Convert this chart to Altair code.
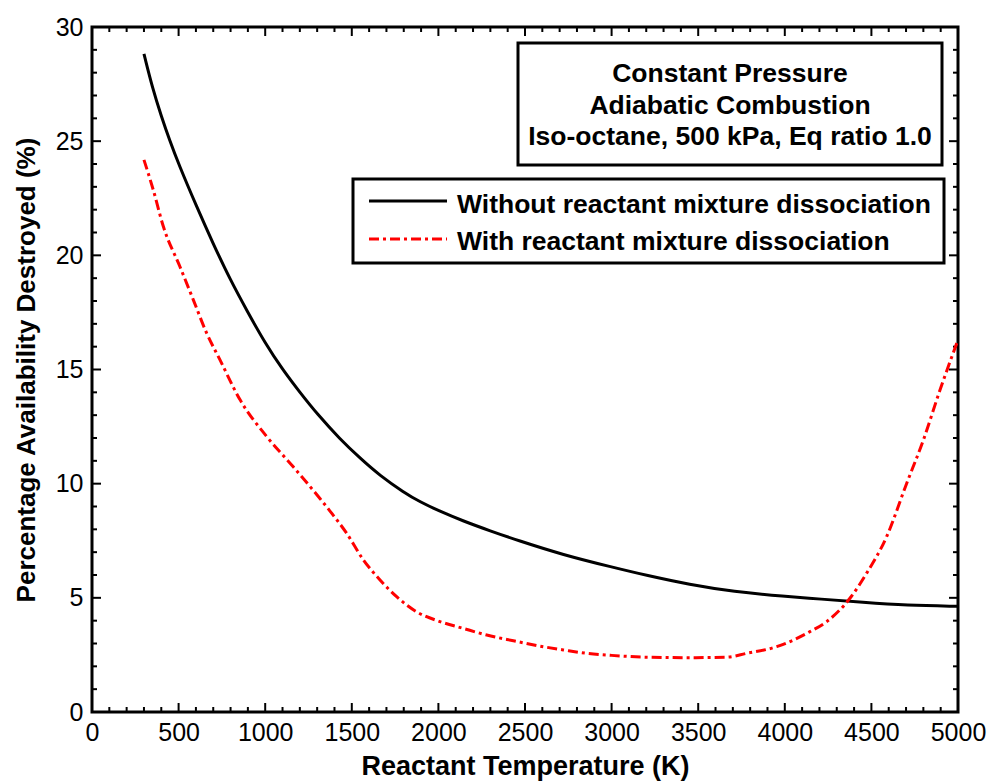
import altair as alt
import pandas as pd

# ---- data ----
temp_without = [300, 350, 400, 450, 500, 600, 700, 800, 900, 1000, 1100, 1200, 1300, 1432,
                1550, 1663, 1800, 1894, 2000, 2144, 2300, 2452, 2721, 3000, 3202, 3450, 3703,
                4000, 4203, 4450, 4703, 5000]
avail_without = [28.82, 27.3, 26.1, 25.0, 24.0, 22.2, 20.5, 18.9, 17.5, 16.15, 15.0, 14.0,
                 13.05, 11.95, 11.1, 10.35, 9.62, 9.2, 8.82, 8.36, 7.93, 7.53, 6.88, 6.35,
                 5.98, 5.58, 5.27, 5.06, 4.95, 4.8, 4.67, 4.63]

temp_with = [300, 354, 412, 508, 585, 662, 739, 855, 1009, 1162, 1316, 1374, 1470, 1567,
             1663, 1759, 1874, 2009, 2144, 2279, 2433, 2606, 2721, 2856, 3000, 3202, 3450,
             3664, 3780, 3953, 4145, 4242, 4376, 4472, 4588, 4703, 4800, 4896, 5000]
avail_with = [24.18, 22.86, 21.26, 19.5, 18.05, 16.59, 15.42, 13.67, 12.06, 10.74, 9.35,
              8.8, 7.83, 6.66, 5.78, 5.05, 4.39, 3.96, 3.66, 3.37, 3.12, 2.86, 2.72, 2.57,
              2.48, 2.40, 2.38, 2.40, 2.57, 2.86, 3.52, 3.96, 4.98, 6.07, 7.68, 10.0, 11.91,
              14.1, 16.3]

x_major = [0, 500, 1000, 1500, 2000, 2500, 3000, 3500, 4000, 4500, 5000]
x_minor = [v for v in range(0, 5001, 100) if v % 500 != 0]
y_major = [0, 5, 10, 15, 20, 25, 30]
y_minor = [v for v in range(0, 31) if v % 5 != 0]

series_labels = ["Without reactant mixture dissociation", "With reactant mixture dissociation"]
box_lines = ["Constant Pressure", "Adiabatic Combustion", "Iso-octane, 500 kPa, Eq ratio 1.0"]

W, H = 866, 685
X_MAX, Y_MAX = 5000, 30
FONT = "Liberation Sans"
RED_DASH = [10, 4, 3, 4]
TXT = 26.5
MAJOR_PX, MINOR_PX = 9, 5

# black curve + inward tick segments share one table (grouped with detail)
rows = [(t, a, "curve") for t, a in zip(temp_without, avail_without)]
k = 0
for vals, px in [(x_major, MAJOR_PX), (x_minor, MINOR_PX)]:
    ly = px * Y_MAX / H
    for v in vals:
        rows += [(v, 0, f"t{k}"), (v, ly, f"t{k}")]
        k += 1
        rows += [(v, Y_MAX, f"t{k}"), (v, Y_MAX - ly, f"t{k}")]
        k += 1
for vals, px in [(y_major, MAJOR_PX), (y_minor, MINOR_PX)]:
    lx = px * X_MAX / W
    for v in vals:
        rows += [(0, v, f"t{k}"), (lx, v, f"t{k}")]
        k += 1
        rows += [(X_MAX, v, f"t{k}"), (X_MAX - lx, v, f"t{k}")]
        k += 1
df_black = pd.DataFrame(rows, columns=["T", "A", "grp"])
df_b = pd.DataFrame({"T": temp_with, "A": avail_with})

xs = alt.Scale(domain=[0, X_MAX], nice=False)
ys = alt.Scale(domain=[0, Y_MAX], nice=False)

x_enc = alt.X("T:Q", scale=xs, axis=alt.Axis(
    values=x_major, format="d", ticks=False, domain=False, grid=False,
    title="Reactant Temperature (K)", labelPadding=8, titlePadding=8,
    labelFontSize=25, titleFontSize=27, titleFontWeight="bold",
    labelFont=FONT, titleFont=FONT, labelColor="black", titleColor="black",
    labelFlush=False))
y_enc = alt.Y("A:Q", scale=ys, axis=alt.Axis(
    values=y_major, format="d", ticks=False, domain=False, grid=False,
    title="Percentage Availability Destroyed (%)", labelPadding=9, titlePadding=16,
    labelFontSize=25, titleFontSize=26, titleFontWeight="bold",
    labelFont=FONT, titleFont=FONT, labelColor="black", titleColor="black",
    labelFlush=False))

line_a = alt.Chart(df_black).mark_line(color="black", interpolate="basis").encode(
    x=x_enc, y=y_enc, detail="grp:N",
    strokeWidth=alt.condition(alt.datum.grp == "curve", alt.value(3), alt.value(2)))
line_b = alt.Chart(df_b).mark_line(color="#ff0000", strokeWidth=3, strokeDash=RED_DASH,
                                   interpolate="monotone").encode(
    x=alt.X("T:Q", scale=xs), y=alt.Y("A:Q", scale=ys))

one = pd.DataFrame({"k": [0]})

# annotation box
box1 = alt.Chart(one).mark_rect(fill="white", stroke="black", strokeWidth=3).encode(
    x=alt.value(426), x2=alt.value(850), y=alt.value(16), y2=alt.value(138))
box_texts = []
for i, t in enumerate(box_lines):
    box_texts.append(alt.Chart(one).mark_text(
        text=t, font=FONT, fontSize=TXT, fontWeight="bold", color="black",
        align="center", baseline="alphabetic").encode(
        x=alt.value(638), y=alt.value(55 + 31.5 * i)))

# legend box
box2 = alt.Chart(one).mark_rect(fill="white", stroke="black", strokeWidth=3).encode(
    x=alt.value(261), x2=alt.value(852), y=alt.value(152), y2=alt.value(236))
leg_a = alt.Chart(one).mark_rule(color="black", strokeWidth=3).encode(
    x=alt.value(277), x2=alt.value(355), y=alt.value(174))
leg_b = alt.Chart(one).mark_rule(color="#ff0000", strokeWidth=3, strokeDash=RED_DASH).encode(
    x=alt.value(277), x2=alt.value(355), y=alt.value(212))
leg_ta = alt.Chart(one).mark_text(
    text=series_labels[0], font=FONT, fontSize=TXT, fontWeight="bold", color="black",
    align="left", baseline="alphabetic").encode(x=alt.value(365), y=alt.value(186))
leg_tb = alt.Chart(one).mark_text(
    text=series_labels[1], font=FONT, fontSize=TXT, fontWeight="bold", color="black",
    align="left", baseline="alphabetic").encode(x=alt.value(365), y=alt.value(223))

chart = alt.layer(
    line_a, line_b, box1, *box_texts, box2, leg_a, leg_b, leg_ta, leg_tb
).properties(
    width=W, height=H,
    autosize=alt.AutoSizeParams(type="none"),
    padding={"left": 92, "top": 27, "right": 32, "bottom": 71},
    background="white",
).configure_view(stroke="black", strokeWidth=3)

chart.save("out.html", embed_options={"renderer": "svg", "actions": False})
